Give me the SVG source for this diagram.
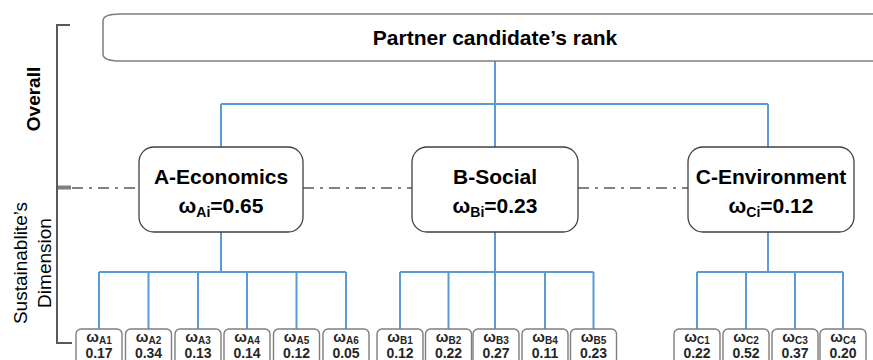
<svg xmlns="http://www.w3.org/2000/svg" width="873" height="360" viewBox="0 0 873 360">
<defs>
<style>
.blue{stroke:#5B9BD5;stroke-width:2;fill:none}
.dd{stroke:#595959;stroke-width:1.6;fill:none;stroke-dasharray:11 6 3 6}
.br{stroke:#595959;stroke-width:2;fill:none}
.cat{fill:#fff;stroke:#404040;stroke-width:1.3}
.leaf{fill:#fff;stroke:#7f7f7f;stroke-width:1.4}
.t{font-family:"Liberation Sans",Arial,sans-serif;font-weight:bold;fill:#000;text-anchor:middle}
.big{font-size:21px}
.lw{font-family:"Liberation Sans",Arial,sans-serif;font-weight:bold;fill:#262626;text-anchor:middle;font-size:15px}
.lv{font-family:"Liberation Sans",Arial,sans-serif;font-weight:bold;fill:#262626;text-anchor:middle;font-size:14px}
.side{font-family:"Liberation Sans",Arial,sans-serif;fill:#000;text-anchor:middle;font-size:19px}
</style>
</defs>
<rect width="873" height="360" fill="#fff"/>

<g id="connectors">
<path class="blue" d="M495 61V104M221 104H768M221 104V147M495 104V147M768 104V147"/>
<path class="blue" d="M221 232V272M99 272H346M99 272V329M148.5 272V329M198 272V329M247 272V329M296.5 272V329M346 272V329"/>
<path class="blue" d="M495 232V272M400 272H593.5M400 272V329M448.5 272V329M495 272V329M545 272V329M593.5 272V329"/>
<path class="blue" d="M768 232V272M697 272H843M697 272V329M746 272V329M795 272V329M843 272V329"/>
<path class="dd" d="M72 188H139M303 188H412M578 188H688"/>
<rect x="57" y="185.5" width="14" height="4" fill="#7f7f7f"/>
</g>

<g id="bracket">
<path class="br" d="M70 25H57V343H72"/>
<text class="side" font-weight="bold" font-size="17.5" transform="translate(40 99) rotate(-90)">Overall</text>
<text class="side" transform="translate(27 263) rotate(-90)">Sustainablite’s</text>
<text class="side" transform="translate(51 263) rotate(-90)">Dimension</text>
</g>

<g id="root">
<path d="M120 14H880V61H120Q103 61 103 54V21Q103 14 120 14Z" fill="#fff" stroke="#7f7f7f" stroke-width="1.5"/>
<text class="t big" x="495" y="45">Partner candidate’s rank</text>
</g>

<g id="A">
<rect class="cat" x="139" y="147" width="164" height="85" rx="15"/>
<text class="t big" x="221" y="184">A-Economics</text>
<text class="t big" x="221" y="213">ω<tspan font-size="14" dy="4">Ai</tspan><tspan dy="-4">=0.65</tspan></text>
</g>
<g id="B">
<rect class="cat" x="412" y="147" width="166" height="85" rx="15"/>
<text class="t big" x="495" y="184">B-Social</text>
<text class="t big" x="495" y="213">ω<tspan font-size="14" dy="4">Bi</tspan><tspan dy="-4">=0.23</tspan></text>
</g>
<g id="C">
<rect class="cat" x="688" y="147" width="166" height="85" rx="15"/>
<text class="t big" x="771" y="184">C-Environment</text>
<text class="t big" x="771" y="213">ω<tspan font-size="14" dy="4">Ci</tspan><tspan dy="-4">=0.12</tspan></text>
</g>

<g id="A1"><rect class="leaf" x="76" y="329" width="46" height="40" rx="5"/><text class="lw" x="99" y="342">ω<tspan font-size="10" dy="2">A1</tspan></text><text class="lv" x="99" y="358">0.17</text></g>
<g id="A2"><rect class="leaf" x="125.5" y="329" width="46" height="40" rx="5"/><text class="lw" x="148.5" y="342">ω<tspan font-size="10" dy="2">A2</tspan></text><text class="lv" x="148.5" y="358">0.34</text></g>
<g id="A3"><rect class="leaf" x="175" y="329" width="46" height="40" rx="5"/><text class="lw" x="198" y="342">ω<tspan font-size="10" dy="2">A3</tspan></text><text class="lv" x="198" y="358">0.13</text></g>
<g id="A4"><rect class="leaf" x="224" y="329" width="46" height="40" rx="5"/><text class="lw" x="247" y="342">ω<tspan font-size="10" dy="2">A4</tspan></text><text class="lv" x="247" y="358">0.14</text></g>
<g id="A5"><rect class="leaf" x="273.5" y="329" width="46" height="40" rx="5"/><text class="lw" x="296.5" y="342">ω<tspan font-size="10" dy="2">A5</tspan></text><text class="lv" x="296.5" y="358">0.12</text></g>
<g id="A6"><rect class="leaf" x="323" y="329" width="46" height="40" rx="5"/><text class="lw" x="346" y="342">ω<tspan font-size="10" dy="2">A6</tspan></text><text class="lv" x="346" y="358">0.05</text></g>

<g id="B1"><rect class="leaf" x="377" y="329" width="46" height="40" rx="5"/><text class="lw" x="400" y="342">ω<tspan font-size="10" dy="2">B1</tspan></text><text class="lv" x="400" y="358">0.12</text></g>
<g id="B2"><rect class="leaf" x="425.5" y="329" width="46" height="40" rx="5"/><text class="lw" x="448.5" y="342">ω<tspan font-size="10" dy="2">B2</tspan></text><text class="lv" x="448.5" y="358">0.22</text></g>
<g id="B3"><rect class="leaf" x="473" y="329" width="46" height="40" rx="5"/><text class="lw" x="496" y="342">ω<tspan font-size="10" dy="2">B3</tspan></text><text class="lv" x="496" y="358">0.27</text></g>
<g id="B4"><rect class="leaf" x="522" y="329" width="46" height="40" rx="5"/><text class="lw" x="545" y="342">ω<tspan font-size="10" dy="2">B4</tspan></text><text class="lv" x="545" y="358">0.11</text></g>
<g id="B5"><rect class="leaf" x="570.5" y="329" width="46" height="40" rx="5"/><text class="lw" x="593.5" y="342">ω<tspan font-size="10" dy="2">B5</tspan></text><text class="lv" x="593.5" y="358">0.23</text></g>

<g id="C1"><rect class="leaf" x="674" y="329" width="46" height="40" rx="5"/><text class="lw" x="697" y="342">ω<tspan font-size="10" dy="2">C1</tspan></text><text class="lv" x="697" y="358">0.22</text></g>
<g id="C2"><rect class="leaf" x="723" y="329" width="46" height="40" rx="5"/><text class="lw" x="746" y="342">ω<tspan font-size="10" dy="2">C2</tspan></text><text class="lv" x="746" y="358">0.52</text></g>
<g id="C3"><rect class="leaf" x="772" y="329" width="46" height="40" rx="5"/><text class="lw" x="795" y="342">ω<tspan font-size="10" dy="2">C3</tspan></text><text class="lv" x="795" y="358">0.37</text></g>
<g id="C4"><rect class="leaf" x="820" y="329" width="46" height="40" rx="5"/><text class="lw" x="843" y="342">ω<tspan font-size="10" dy="2">C4</tspan></text><text class="lv" x="843" y="358">0.20</text></g>
</svg>
